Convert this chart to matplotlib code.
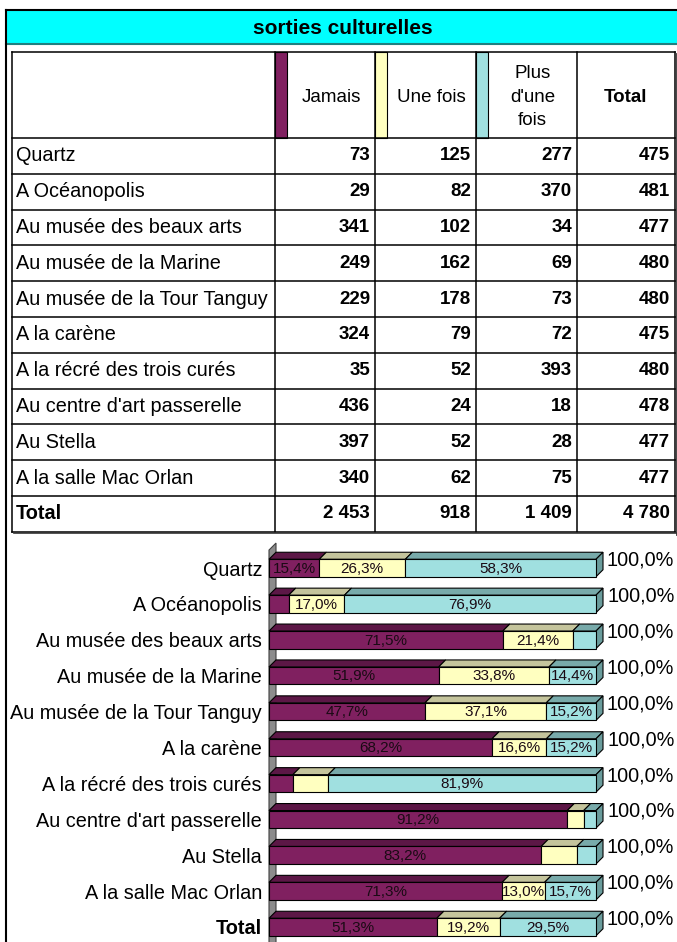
import numpy as np
import matplotlib; matplotlib.use('Agg')
import matplotlib.pyplot as plt
from matplotlib.patches import Polygon, Rectangle

plt.rcParams['font.family'] = ['Liberation Sans', 'DejaVu Sans']

# data
lieux = ["Quartz", "A Océanopolis", "Au musée des beaux arts", "Au musée de la Marine",
         "Au musée de la Tour Tanguy", "A la carène", "A la récré des trois curés",
         "Au centre d'art passerelle", "Au Stella", "A la salle Mac Orlan"]
jamais = [73, 29, 341, 249, 229, 324, 35, 436, 397, 340]
une_fois = [125, 82, 102, 162, 178, 79, 52, 24, 52, 62]
plus_une = [277, 370, 34, 69, 73, 72, 393, 18, 28, 75]
headers = ["Jamais", "Une fois", "Plus\nd'une\nfois", "Total"]

counts = np.array([jamais, une_fois, plus_une], dtype=float).T
counts = np.vstack([counts, counts.sum(axis=0)])
row_tot = counts.sum(axis=1)
pct = counts / row_tot[:, None] * 100
names = lieux + ["Total"]

c_front = ['#802060', '#FFFFC0', '#A0E0E0']
c_top = ['#5C1746', '#C4C49C', '#78AAAA']
c_side = '#6A9C9C'

def fmt(v):
    return f"{int(v):,}".replace(",", " ")

def fpct(v):
    return f"{v:.1f}%".replace(".", ",")

fig = plt.figure(figsize=(6.77, 9.42), dpi=100)
bg = fig.add_axes([0, 0, 1, 1])
bg.set_xlim(0, 677); bg.set_ylim(942, 0); bg.axis('off')

# outer frame + title band
bg.add_patch(Rectangle((6, 10), 672, 34, fc='#00FFFF', ec='none'))
bg.plot([6, 677], [10, 10], c='k', lw=1.5)
bg.plot([6, 677], [43.5, 43.5], c='#208080', lw=1.5)
bg.plot([6, 6], [10, 942], c='k', lw=1.5)
bg.text(343, 28, "sorties culturelles", ha='center', va='center', fontsize=15,
        fontweight='bold')

# table grid
cols = [12, 275, 375, 476, 577, 675]
row_top = 52
head_h = 86
row_h = 35.8
rows_y = [row_top, row_top + head_h] + [row_top + head_h + row_h * (i + 1) for i in range(len(names))]
for y in rows_y:
    bg.plot([cols[0], cols[-1]], [y, y], c='k', lw=1.1)
for x in cols:
    bg.plot([x, x], [rows_y[0], rows_y[-1]], c='k', lw=1.1)
bg.plot([676.5, 676.5], [rows_y[0] + 2, rows_y[-1] + 2], c='#333333', lw=2)
bg.plot([cols[0] + 2, 677], [rows_y[-1] + 1.5, rows_y[-1] + 1.5], c='#333333', lw=1.2)

# header
for j in range(3):
    bg.add_patch(Rectangle((cols[j + 1], rows_y[0]), 12, head_h, fc=c_front[j], ec='k', lw=0.8))
hy = (rows_y[0] + rows_y[1]) / 2 + 2
for j, h in enumerate(headers):
    cx = (cols[j + 1] + cols[j + 2]) / 2 + (6 if j < 3 else 0)
    bg.text(cx, hy, h, ha='center', va='center', fontsize=13.5,
            fontweight='bold' if h == "Total" else 'normal', linespacing=1.5)

# body
for i, n in enumerate(names):
    yc = rows_y[1] + row_h * (i + 0.5)
    bold = 'bold' if n == "Total" else 'normal'
    bg.text(cols[0] + 4, yc, n, ha='left', va='center', fontsize=14.3, fontweight=bold)
    vals = list(counts[i]) + [row_tot[i]]
    for j, v in enumerate(vals):
        bg.text(cols[j + 2] - 5, yc, fmt(v), ha='right', va='center', fontsize=13.5,
                fontweight='bold')

# chart
px = 3.27    # pixels per percent
py = 35.9    # pixels per row
x0p, y0p = 269, 568
left_px, right_px, top_px, bot_px = 262, 677, 540, 942
ax = fig.add_axes([left_px / 677, 1 - bot_px / 942, (right_px - left_px) / 677,
                   (bot_px - top_px) / 942])
ax.set_xlim((left_px - x0p) / px, (right_px - x0p) / px)
ax.set_ylim((bot_px - y0p) / py, (top_px - y0p) / py)
ax.patch.set_alpha(0)
for s in ax.spines.values():
    s.set_visible(False)
ax.set_xticks([])

dx = 7 / px
dy = 7 / py
h = 17.5 / py
n = len(names)

# back wall
wall_top = -0.5
wall_bot = ax.get_ylim()[0] + 0.2
ax.add_patch(Polygon([(0, wall_bot), (0, wall_top), (dx, wall_top - dy), (dx, wall_bot - dy)],
                     closed=True, fc='#8C8C8C', ec='#404040', lw=0.8, zorder=1))

ypos = np.arange(n)
lefts = np.zeros(n)
for j in range(3):
    w = pct[:, j]
    ax.barh(ypos, w, left=lefts, height=h, color=c_front[j], edgecolor='k', lw=0.8, zorder=3)
    for i in range(n):
        yt = ypos[i] - h / 2
        ax.add_patch(Polygon([(lefts[i], yt), (lefts[i] + w[i], yt),
                              (lefts[i] + w[i] + dx, yt - dy), (lefts[i] + dx, yt - dy)],
                             closed=True, fc=c_top[j], ec='k', lw=0.8, zorder=2))
        if w[i] >= 12:
            ax.text(lefts[i] + w[i] / 2, ypos[i] + 0.02, fpct(w[i]), ha='center', va='center',
                    fontsize=11, color='#1A0A14', zorder=4)
    lefts = lefts + w

for i in range(n):
    yt = ypos[i] - h / 2
    yb = ypos[i] + h / 2
    ax.add_patch(Polygon([(lefts[i], yt), (lefts[i] + dx, yt - dy), (lefts[i] + dx, yb - dy),
                          (lefts[i], yb)], closed=True, fc=c_side, ec='k', lw=0.8, zorder=2))
    ax.text(lefts[i] + dx + 4 / px, ypos[i] - 0.22, fpct(lefts[i]), ha='left', va='center',
            fontsize=14.3, clip_on=False)

ax.set_yticks(ypos)
ax.set_yticklabels(names, fontsize=14.3)
ax.get_yticklabels()[-1].set_fontweight('bold')
ax.tick_params(axis='y', length=0, pad=0)

fig.savefig("out.png", dpi=100)
